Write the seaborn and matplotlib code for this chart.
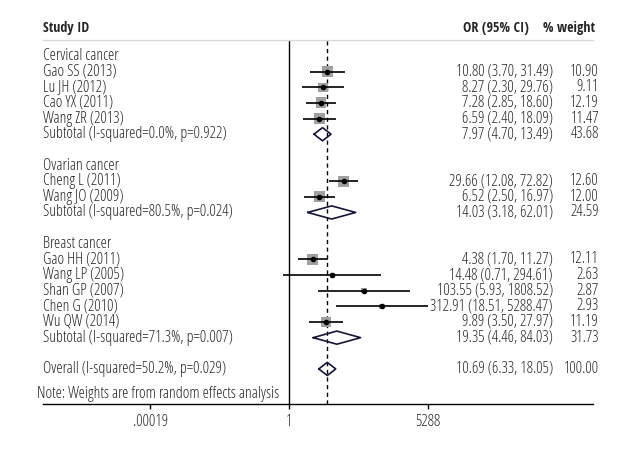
import numpy as np
import pandas as pd
import seaborn as sns
import matplotlib.pyplot as plt

sns.set_style("white")
plt.rcParams['font.family'] = ['Open Sans', 'DejaVu Sans']
plt.rcParams['font.stretch'] = 'condensed'

# Study-level data
groups = ['Cervical cancer', 'Ovarian cancer', 'Breast cancer']
studies = [
    ['Gao SS (2013)', 'Lu JH (2012)', 'Cao YX (2011)', 'Wang ZR (2013)'],
    ['Cheng L (2011)', 'Wang JO (2009)'],
    ['Gao HH (2011)', 'Wang LP (2005)', 'Shan GP (2007)', 'Chen G (2010)', 'Wu QW (2014)'],
]
or_vals = [[10.80, 8.27, 7.28, 6.59], [29.66, 6.52], [4.38, 14.48, 103.55, 312.91, 9.89]]
ci_low = [[3.70, 2.30, 2.85, 2.40], [12.08, 2.50], [1.70, 0.71, 5.93, 18.51, 3.50]]
ci_high = [[31.49, 29.76, 18.60, 18.09], [72.82, 16.97], [11.27, 294.61, 1808.52, 5288.47, 27.97]]
weights = [[10.90, 9.11, 12.19, 11.47], [12.60, 12.00], [12.11, 2.63, 2.87, 2.93, 11.19]]

# Subtotals
sub_labels = ['Subtotal (I-squared=0.0%, p=0.922)',
              'Subtotal (I-squared=80.5%, p=0.024)',
              'Subtotal (I-squared=71.3%, p=0.007)']
sub_or = [7.97, 14.03, 19.35]
sub_low = [4.70, 3.18, 4.46]
sub_high = [13.49, 62.01, 84.03]
sub_w = [43.68, 24.59, 31.73]

overall_label = 'Overall (I-squared=50.2%, p=0.029)'
overall_or, overall_low, overall_high, overall_w = 10.69, 6.33, 18.05, 100.00

note = 'Note: Weights are from random effects analysis'
tick_vals = [0.00019, 1, 5288]
tick_labels = ['.00019', '1', '5288']

# build row table
rows = []
r = 0
for g in range(len(groups)):
    rows.append(dict(row=r, label=groups[g], kind='group'))
    r += 1
    for i in range(len(studies[g])):
        rows.append(dict(row=r, label=studies[g][i], kind='study', OR=or_vals[g][i],
                         lo=ci_low[g][i], hi=ci_high[g][i], w=weights[g][i]))
        r += 1
    rows.append(dict(row=r, label=sub_labels[g], kind='sub', OR=sub_or[g],
                     lo=sub_low[g], hi=sub_high[g], w=sub_w[g]))
    r += 2
rows.append(dict(row=r, label=overall_label, kind='sub', OR=overall_or,
                 lo=overall_low, hi=overall_high, w=overall_w))
df = pd.DataFrame(rows)
note_row = r + 1.6

fig = plt.figure(figsize=(6.3, 4.5), dpi=100)

# pick a font size so the note is as wide as in the original (~242 px)
renderer = fig.canvas.get_renderer()
probe = fig.text(0, 0, note, fontsize=10)
w10 = probe.get_window_extent(renderer).width
probe.remove()
fs = 10 * 242 / w10

# bold header: condensed bold if there is one, otherwise scale a bit
bold_fam = ['Open Sans Condensed', 'Open Sans', 'DejaVu Sans']
probe = fig.text(0, 0, 'Study ID', fontsize=fs, fontweight='bold', family=bold_fam)
wb = probe.get_window_extent(renderer).width
probe.remove()
fs_b = fs * min(1.0, max(0.85, 46 / wb))

ax = fig.add_axes([43 / 630, 1 - 404 / 450, 550 / 630, 364 / 450])
ax.set_xscale('log')
ax.set_xlim(10 ** -6.61, 10 ** 8.17)
ax.set_ylim(22.24, -1.02)

# reference lines
ax.axvline(1, color='black', lw=1.0)
ax.axvline(overall_or, color='black', lw=1.0, ls=(0, (3, 2.5)))

st = df[df.kind == 'study']
ax.hlines(st['row'], st['lo'], st['hi'], color='black', lw=1.2, zorder=3)
# square area proportional to weight
sns.scatterplot(x=st['OR'], y=st['row'], marker='s', s=st['w'] * 5.0, color='#a0a0a0',
                edgecolor='none', ax=ax, zorder=2, legend=False)
ax.scatter(st['OR'], st['row'], s=9, color='black', zorder=4)

sb = df[df.kind == 'sub']
for _, d in sb.iterrows():
    xs = [d.lo, d.OR, d.hi, d.OR, d.lo]
    ys = [d.row, d.row - 0.42, d.row, d.row + 0.42, d.row]
    ax.plot(xs, ys, color='#15153a', lw=1.2, zorder=3)

# text columns
tr = ax.get_yaxis_transform()
for _, d in df.iterrows():
    ax.text(0.0, d.row, d.label, transform=tr, ha='left', va='center', fontsize=fs)
    if d.kind != 'group':
        ax.text(510 / 550, d.row, f'{d.OR:.2f} ({d.lo:.2f}, {d.hi:.2f})',
                transform=tr, ha='right', va='center', fontsize=fs)
        ax.text(556 / 550, d.row, f'{d.w:.2f}', transform=tr,
                ha='right', va='center', fontsize=fs)

ax.text(-6 / 550, note_row, note, transform=tr, ha='left', va='center', fontsize=fs)

# headers
ax.text(0.0, -1.8, 'Study ID', transform=tr, ha='left', va='center',
        fontsize=fs_b, fontweight='bold', family=bold_fam)
ax.text(486 / 550, -1.8, 'OR (95% CI)', transform=tr, ha='right',
        va='center', fontsize=fs_b, fontweight='bold', family=bold_fam)
ax.text(552 / 550, -1.8, '% weight', transform=tr, ha='right',
        va='center', fontsize=fs_b, fontweight='bold', family=bold_fam)

sns.despine(ax=ax, left=True, right=True, top=False)
ax.spines['top'].set_color('#d8d8d8')
ax.spines['top'].set_linewidth(1.0)
ax.spines['bottom'].set_color('black')
ax.spines['bottom'].set_linewidth(1.0)
ax.set_yticks([])
ax.set_xticks(tick_vals)
ax.set_xticklabels(tick_labels, fontsize=fs)
ax.xaxis.set_minor_locator(plt.NullLocator())
ax.tick_params(axis='x', bottom=True, length=3.5, width=1, color='black', pad=4)
ax.set_xlabel('')
ax.set_ylabel('')

fig.savefig('out.png', dpi=100)
